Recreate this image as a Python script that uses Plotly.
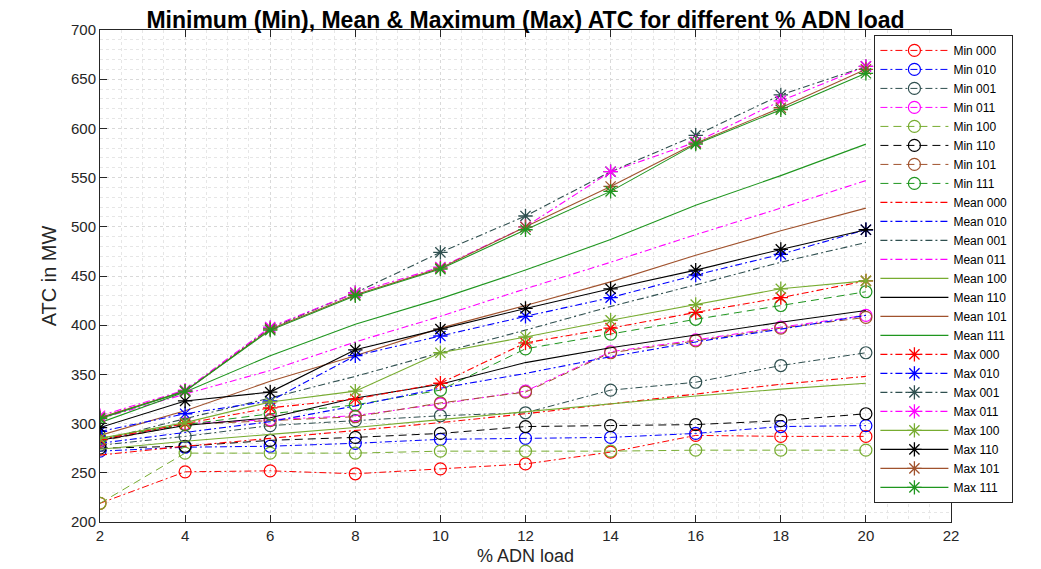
import plotly.graph_objects as go

x_load = [2, 4, 6, 8, 10, 12, 14, 16, 18, 20]

# Minimum ATC (MW)
min_000 = [219, 251, 252, 249, 254, 259, 271, 288, 287, 287]
min_010 = [272, 276, 277, 280, 284, 285, 286, 290, 297, 298]
min_001 = [278, 287, 298, 303, 308, 311, 334, 342, 359, 372]
min_011 = [283, 300, 304, 308, 320, 333, 373, 385, 398, 410]
min_100 = [219, 270, 270, 270, 272, 272, 272, 273, 273, 273]
min_110 = [275, 277, 283, 286, 290, 297, 298, 299, 303, 310]
min_101 = [282, 299, 303, 307, 321, 332, 372, 384, 397, 408]
min_111 = [285, 299, 310, 319, 334, 376, 391, 406, 420, 434]

# Mean ATC (MW)
mean_000 = [268, 277, 285, 293, 301, 310, 320, 330, 340, 348]
mean_010 = [280, 291, 302, 318, 336, 351, 368, 383, 396, 410]
mean_001 = [283, 305, 326, 348, 372, 395, 419, 441, 464, 484]
mean_011 = [305, 330, 354, 383, 409, 437, 464, 492, 519, 547]
mean_100 = [274, 282, 289, 296, 304, 312, 320, 328, 335, 341]
mean_110 = [283, 298, 306, 326, 340, 362, 377, 390, 403, 415]
mean_101 = [288, 313, 343, 369, 397, 420, 444, 471, 496, 519]
mean_111 = [301, 332, 369, 401, 427, 456, 487, 522, 552, 584]

# Maximum ATC (MW)
max_000 = [284, 300, 316, 325, 341, 382, 397, 413, 428, 445]
max_010 = [292, 310, 323, 369, 389, 409, 428, 451, 472, 497]
max_001 = [306, 333, 397, 433, 474, 511, 556, 593, 634, 663]
max_011 = [308, 334, 398, 433, 459, 500, 556, 586, 628, 663]
max_100 = [285, 301, 322, 333, 372, 388, 405, 421, 437, 445]
max_110 = [296, 323, 332, 375, 396, 417, 437, 456, 477, 497]
max_101 = [306, 333, 396, 431, 458, 500, 541, 585, 621, 660]
max_111 = [305, 333, 395, 430, 457, 497, 536, 584, 619, 656]

codes = ["000", "010", "001", "011", "100", "110", "101", "111"]
colors = {
    "000": "#ff0000",
    "010": "#0000ff",
    "001": "#2f4f4f",
    "011": "#ff00ff",
    "100": "#77ac30",
    "110": "#000000",
    "101": "#a0522d",
    "111": "#1f961f",
}
DASHDOT = "7px,3px,2px,3px"
min_dash = {c: (DASHDOT if c in ("000", "010", "001", "011") else "8px,5px") for c in codes}
other_dash = {c: (DASHDOT if c in ("000", "010", "001", "011") else "solid") for c in codes}

mins = [min_000, min_010, min_001, min_011, min_100, min_110, min_101, min_111]
means = [mean_000, mean_010, mean_001, mean_011, mean_100, mean_110, mean_101, mean_111]
maxs = [max_000, max_010, max_001, max_011, max_100, max_110, max_101, max_111]

fig = go.Figure()
for c, ys in zip(codes, mins):
    fig.add_trace(go.Scatter(
        x=x_load, y=ys, name=f"Min {c}", mode="lines+markers",
        line=dict(color=colors[c], width=1, dash=min_dash[c]),
        marker=dict(symbol="circle-open", size=12, color=colors[c], line=dict(width=1.2)),
    ))
for c, ys in zip(codes, means):
    fig.add_trace(go.Scatter(
        x=x_load, y=ys, name=f"Mean {c}", mode="lines",
        line=dict(color=colors[c], width=1.1, dash=other_dash[c]),
    ))
for c, ys in zip(codes, maxs):
    fig.add_trace(go.Scatter(
        x=x_load, y=ys, name=f"Max {c}", mode="lines+markers",
        line=dict(color=colors[c], width=1.1, dash=other_dash[c]),
        marker=dict(symbol="asterisk-open", size=12, color=colors[c], line=dict(width=1.3, color=colors[c])),
    ))

axis_common = dict(
    showline=True, linecolor="#262626", linewidth=1, mirror="allticks",
    ticks="inside", ticklen=7, tickcolor="#262626",
    showgrid=True, gridcolor="#d9d9d9", griddash="dot", gridwidth=1,
    zeroline=False,
    tickfont=dict(family="Liberation Sans, Arial", size=15, color="#262626"),
)

fig.update_layout(
    width=1041, height=569,
    margin=dict(l=92, r=98, t=22, b=55),
    paper_bgcolor="white", plot_bgcolor="white",
    title=dict(text="<b>Minimum (Min), Mean & Maximum (Max) ATC for different % ADN load</b>",
               x=0.5, xref="paper", y=0.979, yanchor="middle",
               font=dict(family="Liberation Sans, Arial", size=23, color="#000000")),
    xaxis=dict(range=[2, 22], dtick=2, tick0=2,
               minor=dict(dtick=0.5, showgrid=True, gridcolor="#e6e6e6", griddash="dot", ticks=""),
               **axis_common),
    yaxis=dict(range=[200, 700], dtick=50,
               title=dict(text="ATC in MW", font=dict(family="Liberation Sans, Arial", size=20, color="#262626"), standoff=8),
               minor=dict(dtick=10, showgrid=True, gridcolor="#e6e6e6", griddash="dot", ticks=""),
               **axis_common),
    legend=dict(x=0.91, y=0.99, xanchor="left", yanchor="top",
                bgcolor="white", bordercolor="#262626", borderwidth=1,
                font=dict(family="Liberation Sans, Arial", size=12, color="#000000"),
                itemwidth=68, tracegroupgap=0),
    showlegend=True,
    annotations=[dict(text="% ADN load", xref="paper", yref="paper", x=0.5, y=0,
                      xanchor="center", yanchor="top", yshift=-22, showarrow=False,
                      font=dict(family="Liberation Sans, Arial", size=18, color="#262626"))],
)

fig.write_html("out.html")
